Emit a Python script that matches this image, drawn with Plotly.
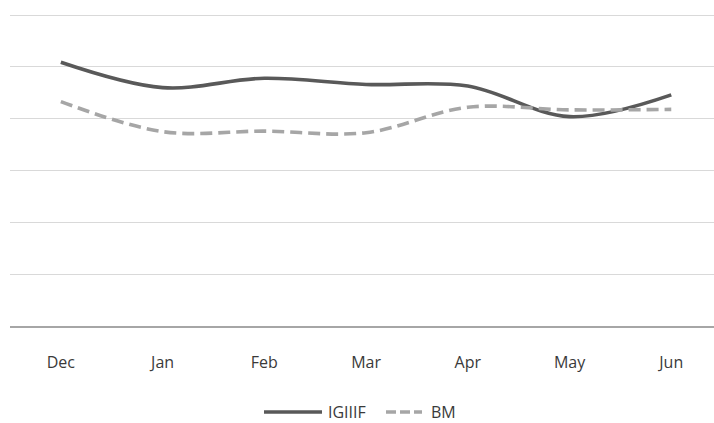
import plotly.graph_objects as go

months = ["Dec", "Jan", "Feb", "Mar", "Apr", "May", "Jun"]
igiiif = [5.09, 4.60, 4.78, 4.66, 4.63, 4.04, 4.46]
bm = [4.33, 3.75, 3.76, 3.73, 4.22, 4.17, 4.18]

W, H = 714, 423
ML, MR, MT, MB = 10, 0, 14, 97
PW, PH = W - ML - MR, H - MT - MB

def px2paper(x, y):
    return (x - ML) / PW, (H - MB - y) / PH

fig = go.Figure()
fig.add_trace(go.Scatter(
    x=list(range(len(months))), y=igiiif, mode="lines", name="IGIIIF",
    line=dict(color="#595959", width=3.6, shape="spline", smoothing=1.0),
))
fig.add_trace(go.Scatter(
    x=list(range(len(months))), y=bm, mode="lines", name="BM",
    line=dict(color="#A6A6A6", width=3.6, dash="12px,6px", shape="spline", smoothing=1.0),
))

font = dict(family="Open Sans", size=16, color="#3a3a3a")

# manual legend
shapes = []
annotations = []
ly = 412
x0, y0 = px2paper(264, ly)
x1, _ = px2paper(322, ly)
shapes.append(dict(type="line", xref="paper", yref="paper", x0=x0, x1=x1, y0=y0, y1=y0,
                   line=dict(color="#595959", width=3.6)))
tx, _ = px2paper(326, ly)
annotations.append(dict(text="IGIIIF", xref="paper", yref="paper", x=tx, y=y0,
                        xanchor="left", yanchor="middle", showarrow=False, font=font))
x0, _ = px2paper(386, ly)
x1, _ = px2paper(422, ly)
shapes.append(dict(type="line", xref="paper", yref="paper", x0=x0, x1=x1, y0=y0, y1=y0,
                   line=dict(color="#A6A6A6", width=3.6, dash="10px,4px")))
tx, _ = px2paper(429, ly)
annotations.append(dict(text="BM", xref="paper", yref="paper", x=tx, y=y0,
                        xanchor="left", yanchor="middle", showarrow=False, font=font))

fig.update_layout(
    width=W, height=H,
    margin=dict(l=ML, r=MR, t=MT, b=MB, pad=0),
    paper_bgcolor="white", plot_bgcolor="white",
    showlegend=False,
    shapes=shapes, annotations=annotations,
    font=font,
)
fig.update_xaxes(
    range=[-0.5, 6.42], tickmode="array", tickvals=list(range(len(months))), ticktext=months,
    showgrid=False, zeroline=False, showline=True, linecolor="#A6A6A6", linewidth=2,
    ticks="", ticklabelstandoff=21, tickfont=font, fixedrange=True,
)
fig.update_yaxes(
    range=[0, 6.02], tickmode="array", tickvals=[1, 2, 3, 4, 5, 6], showticklabels=False,
    showgrid=True, gridcolor="#D9D9D9",
    gridwidth=1.3, zeroline=False, showline=False, fixedrange=True,
)

fig.write_html("out.html", config={"displayModeBar": False},
               post_script="document.body.style.margin='0';document.body.style.overflow='hidden';")
